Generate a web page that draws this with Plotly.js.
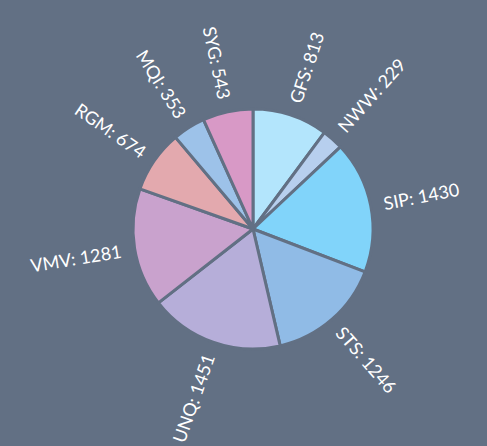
<!DOCTYPE html>
<html>
<head>
<meta charset="utf-8">
<script src="https://cdn.plot.ly/plotly-3.0.1.min.js"></script>
<style>html,body{margin:0;padding:0;background:#627084;}</style>
</head>
<body>
<div id="chart" style="width:487px;height:446px;"></div>
<script>
const labels = ["GFS", "NWW", "SIP", "STS", "UNQ", "VMV", "RGM", "MQI", "SYG"];
const values = [813, 229, 1430, 1246, 1451, 1281, 674, 353, 543];
const colors = ["#b3e5fc", "#b7cfee", "#81d4fa", "#90bbe6", "#b6aed9", "#c9a2cd", "#e3a9ae", "#9dc2e9", "#d899c6"];

const W = 487, H = 446, cx = 253, cy = 229, R = 120, LABEL_GAP = 13;
const FONT_FAMILY = "Lato", FONT_SIZE = 18;
const BG = "#627084";

const pie = {
  type: "pie",
  labels: labels,
  values: values,
  sort: false,
  direction: "clockwise",
  rotation: 0,
  marker: { colors: colors, line: { color: BG, width: 3 } },
  textinfo: "none",
  hoverinfo: "label+value",
  domain: {
    x: [(cx - R) / W, (cx + R) / W],
    y: [(H - cy - R) / H, (H - cy + R) / H]
  },
  showlegend: false
};

// radial labels placed just outside each slice, following the slice mid-angle
const ctx = document.createElement("canvas").getContext("2d");
ctx.font = FONT_SIZE + "px " + FONT_FAMILY;
const total = values.reduce((a, b) => a + b, 0);
let cum = 0;
const annotations = labels.map((lab, i) => {
  const mid = (cum + values[i] / 2) / total * 360;
  cum += values[i];
  const text = lab + ": " + values[i];
  const len = ctx.measureText(text).width;
  const rc = R + LABEL_GAP + len / 2;
  const th = mid * Math.PI / 180;
  const px = cx + rc * Math.sin(th);
  const py = cy - rc * Math.cos(th);
  const ang = mid < 180 ? mid - 90 : mid - 270;
  return {
    xref: "paper", yref: "paper",
    x: px / W, y: (H - py) / H,
    xanchor: "center", yanchor: "middle",
    text: text, showarrow: false, textangle: ang,
    font: { family: FONT_FAMILY + ", sans-serif", size: FONT_SIZE, color: "#ffffff" }
  };
});

const layout = {
  width: W,
  height: H,
  margin: { l: 0, r: 0, t: 0, b: 0 },
  paper_bgcolor: BG,
  plot_bgcolor: BG,
  showlegend: false,
  annotations: annotations
};

Plotly.newPlot("chart", [pie], layout, { displayModeBar: false, staticPlot: true });
</script>
</body>
</html>
